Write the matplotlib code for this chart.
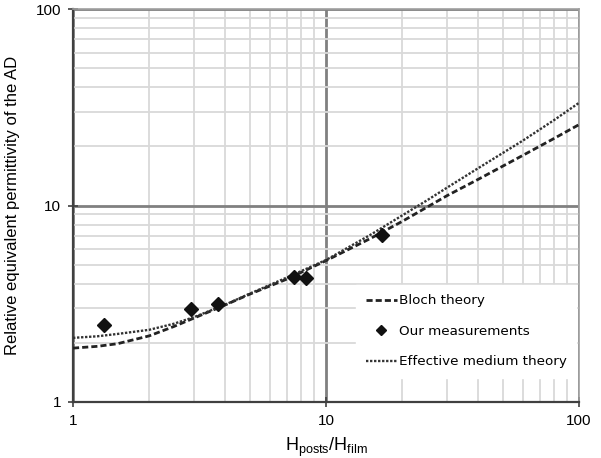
import numpy as np
import matplotlib.pyplot as plt
from matplotlib.ticker import LogLocator, FixedLocator, NullFormatter

# ============================================================
# DATA
# ============================================================

bloch_x = [1, 1.25, 1.5, 2, 2.5, 3, 4, 5, 7, 10, 15, 20, 30, 40, 60, 80, 100]
bloch_y = [1.88, 1.92, 1.98, 2.17, 2.42, 2.67, 3.12, 3.54, 4.22, 5.24, 6.8, 8.3,
           11.2, 13.6, 18.0, 22.0, 25.8]

emt_x = [1, 1.25, 1.5, 2, 2.5, 3, 4, 5, 7, 10, 15, 20, 25, 30, 40, 60, 80, 100]
emt_y = [2.12, 2.16, 2.22, 2.33, 2.5, 2.7, 3.13, 3.56, 4.3, 5.28, 7.1, 8.9,
         10.6, 12.3, 15.5, 21.4, 27.3, 33.3]

meas_x = [1.33, 2.93, 3.75, 7.47, 8.3, 16.6]
meas_y = [2.46, 2.96, 3.17, 4.35, 4.3, 7.08]

x_ticks = [1, 10, 100]
x_ticklabels = ["1", "10", "100"]
y_ticks = [1, 10, 100]
y_ticklabels = ["1", "10", "100"]

# ============================================================
# PLOT
# ============================================================

plt.rcParams["font.family"] = ["Liberation Sans", "DejaVu Sans"]
plt.rcParams["mathtext.fontset"] = "custom"
plt.rcParams["mathtext.rm"] = "Liberation Sans"
plt.rcParams["mathtext.default"] = "rm"

fig = plt.figure(figsize=(6.01, 4.58), dpi=100)
ax = fig.add_axes([0.1215, 0.1223, 0.8419, 0.858])

ax.set_xscale("log")
ax.set_yscale("log")
ax.set_xlim(1, 100)
ax.set_ylim(1, 100)

# grid: light minor lines, darker major line at 10
ax.xaxis.set_minor_locator(LogLocator(base=10, subs=np.arange(2, 10)))
ax.yaxis.set_minor_locator(LogLocator(base=10, subs=np.arange(2, 10)))
ax.xaxis.set_minor_formatter(NullFormatter())
ax.yaxis.set_minor_formatter(NullFormatter())
ax.grid(True, which="minor", color="#d9d9d9", linewidth=1.3)
ax.grid(True, which="major", color="#808080", linewidth=2.0)
ax.set_axisbelow(True)

ax.plot(bloch_x, bloch_y, color="#222222", linewidth=2.0,
        linestyle=(0, (2.2, 1.1)), label="Bloch theory", zorder=3)
ax.plot(meas_x, meas_y, linestyle="none", marker="D", markersize=7,
        color="#111111", label="Our measurements", zorder=4)
ax.plot(emt_x, emt_y, color="#333333", linewidth=1.7,
        linestyle=(0, (1, 0.7)), label="Effective medium theory", zorder=3)

ax.xaxis.set_major_locator(FixedLocator(x_ticks))
ax.yaxis.set_major_locator(FixedLocator(y_ticks))
ax.set_xticklabels(x_ticklabels)
ax.set_yticklabels(y_ticklabels)
ax.tick_params(which="major", direction="inout", length=7, width=1.2,
               color="#404040", labelsize=11, pad=5)
ax.tick_params(which="minor", length=0)

for side in ["left", "bottom"]:
    ax.spines[side].set_color("#404040")
    ax.spines[side].set_linewidth(1.6)
for side in ["top", "right"]:
    ax.spines[side].set_color("#a0a0a0")
    ax.spines[side].set_linewidth(1.2)

ax.set_xlabel(r"H$_{posts}$/H$_{film}$", fontsize=13, labelpad=6)
ax.set_ylabel("Relative equivalent permittivity of the AD", fontsize=12,
              labelpad=11)

leg = ax.legend(loc="upper left", bbox_to_anchor=(0.56, 0.298),
                borderaxespad=0, frameon=True, fancybox=False,
                edgecolor="white", facecolor="white", framealpha=1,
                prop={"family": "DejaVu Sans", "size": 9.7},
                handlelength=2.3, handletextpad=0.15, labelspacing=1.3,
                borderpad=0.7, numpoints=1, markerscale=0.7)
leg.set_zorder(5)

fig.savefig("out.png", dpi=100)
